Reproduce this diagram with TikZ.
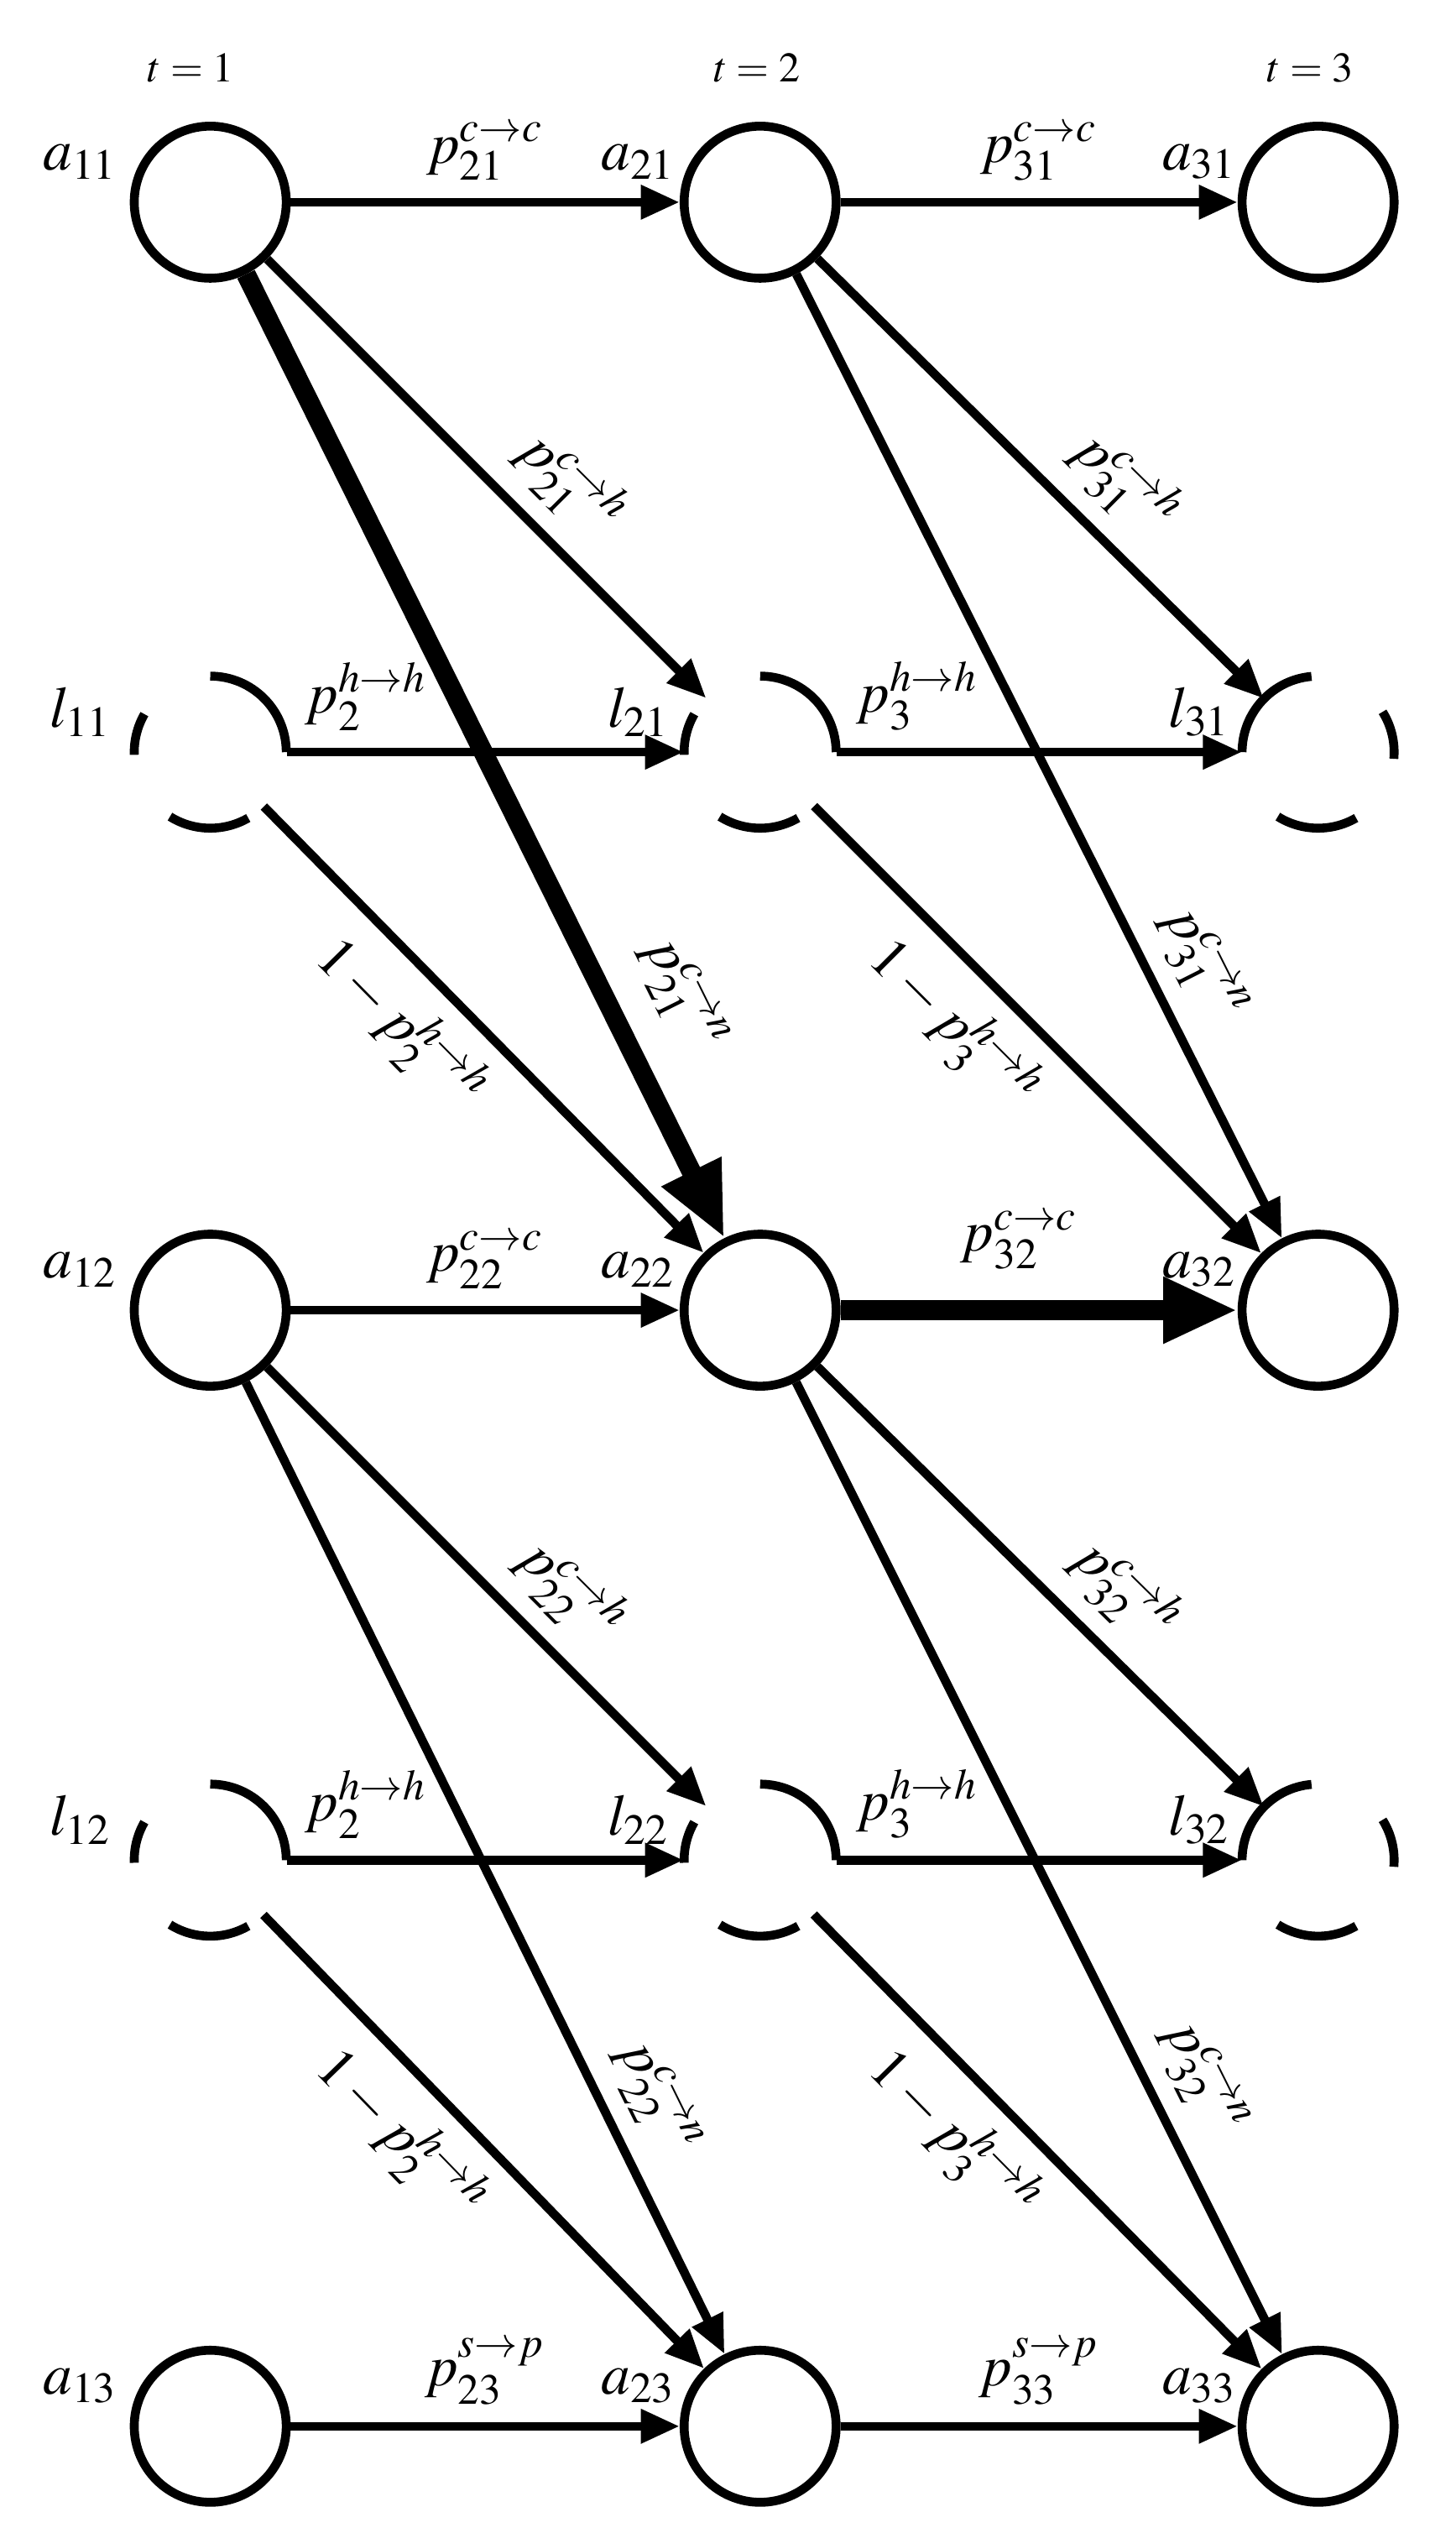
\documentclass[tikz,border=0pt]{standalone}
\usepackage{mathptmx}
\usetikzlibrary{arrows.meta}
\begin{document}
\begin{tikzpicture}[x=1pt,y=-1pt,
  st/.style={circle,draw,line width=5.5pt,minimum size=94pt,inner sep=0pt},
  lt/.style={circle,minimum size=94pt,inner sep=0pt},
  e/.style={line width=5.5pt,-{Triangle[length=24pt,width=20pt]}},
  ee/.style={line width=12pt,-{Triangle[length=46pt,width=38pt]}},
  lb/.style={scale=3.6,inner sep=1pt},
  tl/.style={scale=2.6}]
\useasboundingbox (0,0) rectangle (900,1566);
\foreach \c/\x in {1/130,2/470,3/815}{
  \node[st] (a\c1) at (\x,125) {};
  \node[lt] (l\c1) at (\x,465) {};
  \node[st] (a\c2) at (\x,810) {};
  \node[lt] (l\c2) at (\x,1150) {};
  \node[st] (a\c3) at (\x,1500) {};
}
% dashed arcs
\newcommand\larc[3]{\draw[line width=5.5pt] ([shift={(-#2:47)}]#1.center) arc[start angle=-#2,end angle=-#3,radius=47];}
\foreach \n in {l11,l21,l12,l22}{\larc{\n}{0}{90}\larc{\n}{150}{182}\larc{\n}{238}{300}}
\foreach \n in {l31,l32}{\larc{\n}{-5}{32}\larc{\n}{95}{180}\larc{\n}{238}{300}}
% time labels
\node[tl] (t1) at (118,42) {$t=1$};
\node[tl] (t2) at (468,42) {$t=2$};
\node[tl] (t3) at (810,42) {$t=3$};
% node labels
\foreach \c/\x in {1/50,2/395,3/742}{
  \node[lb] (na\c1) at (\x,100) {$a_{\c1}$};
  \node[lb] (nl\c1) at (\x,440) {$l_{\c1}$};
  \node[lb] (na\c2) at (\x,785) {$a_{\c2}$};
  \node[lb] (nl\c2) at (\x,1125) {$l_{\c2}$};
  \node[lb] (na\c3) at (\x,1475) {$a_{\c3}$};
}
\draw[e] (a11) -- node[lb,above,pos=.5]{$p_{21}^{c\to c}$} (a21);
\draw[e] (a21) -- node[lb,above,pos=.5]{$p_{31}^{c\to c}$} (a31);
\draw[e] (a11) -- node[lb,sloped,above,pos=.6]{$p_{21}^{c\to h}$} (l21);
\draw[e] (a21) -- node[lb,sloped,above,pos=.6]{$p_{31}^{c\to h}$} (l31);
\draw[ee] (a11) -- node[lb,sloped,above,pos=.78]{$p_{21}^{c\to n}$} (a22);
\draw[e] (a21) -- node[lb,sloped,above,pos=.74]{$p_{31}^{c\to n}$} (a32);
\draw[e] (l11) -- node[lb,above,pos=.2]{$p_{2}^{h\to h}$} (l21);
\draw[e] (l21) -- node[lb,above,pos=.2]{$p_{3}^{h\to h}$} (l31);
\draw[e] (l11) -- node[lb,sloped,below,pos=.4]{$1-p_{2}^{h\to h}$} (a22);
\draw[e] (l21) -- node[lb,sloped,below,pos=.4]{$1-p_{3}^{h\to h}$} (a32);
\draw[e] (a12) -- node[lb,above,pos=.5]{$p_{22}^{c\to c}$} (a22);
\draw[ee] (a22) -- node[lb,above,pos=.45]{$p_{32}^{c\to c}$} (a32);
\draw[e] (a12) -- node[lb,sloped,above,pos=.6]{$p_{22}^{c\to h}$} (l22);
\draw[e] (a22) -- node[lb,sloped,above,pos=.6]{$p_{32}^{c\to h}$} (l32);
\draw[e] (a12) -- node[lb,sloped,above,pos=.76]{$p_{22}^{c\to n}$} (a23);
\draw[e] (a22) -- node[lb,sloped,above,pos=.74]{$p_{32}^{c\to n}$} (a33);
\draw[e] (l12) -- node[lb,above,pos=.2]{$p_{2}^{h\to h}$} (l22);
\draw[e] (l22) -- node[lb,above,pos=.2]{$p_{3}^{h\to h}$} (l32);
\draw[e] (l12) -- node[lb,sloped,below,pos=.4]{$1-p_{2}^{h\to h}$} (a23);
\draw[e] (l22) -- node[lb,sloped,below,pos=.4]{$1-p_{3}^{h\to h}$} (a33);
\draw[e] (a13) -- node[lb,above,pos=.5]{$p_{23}^{s\to p}$} (a23);
\draw[e] (a23) -- node[lb,above,pos=.5]{$p_{33}^{s\to p}$} (a33);
\end{tikzpicture}
\end{document}
